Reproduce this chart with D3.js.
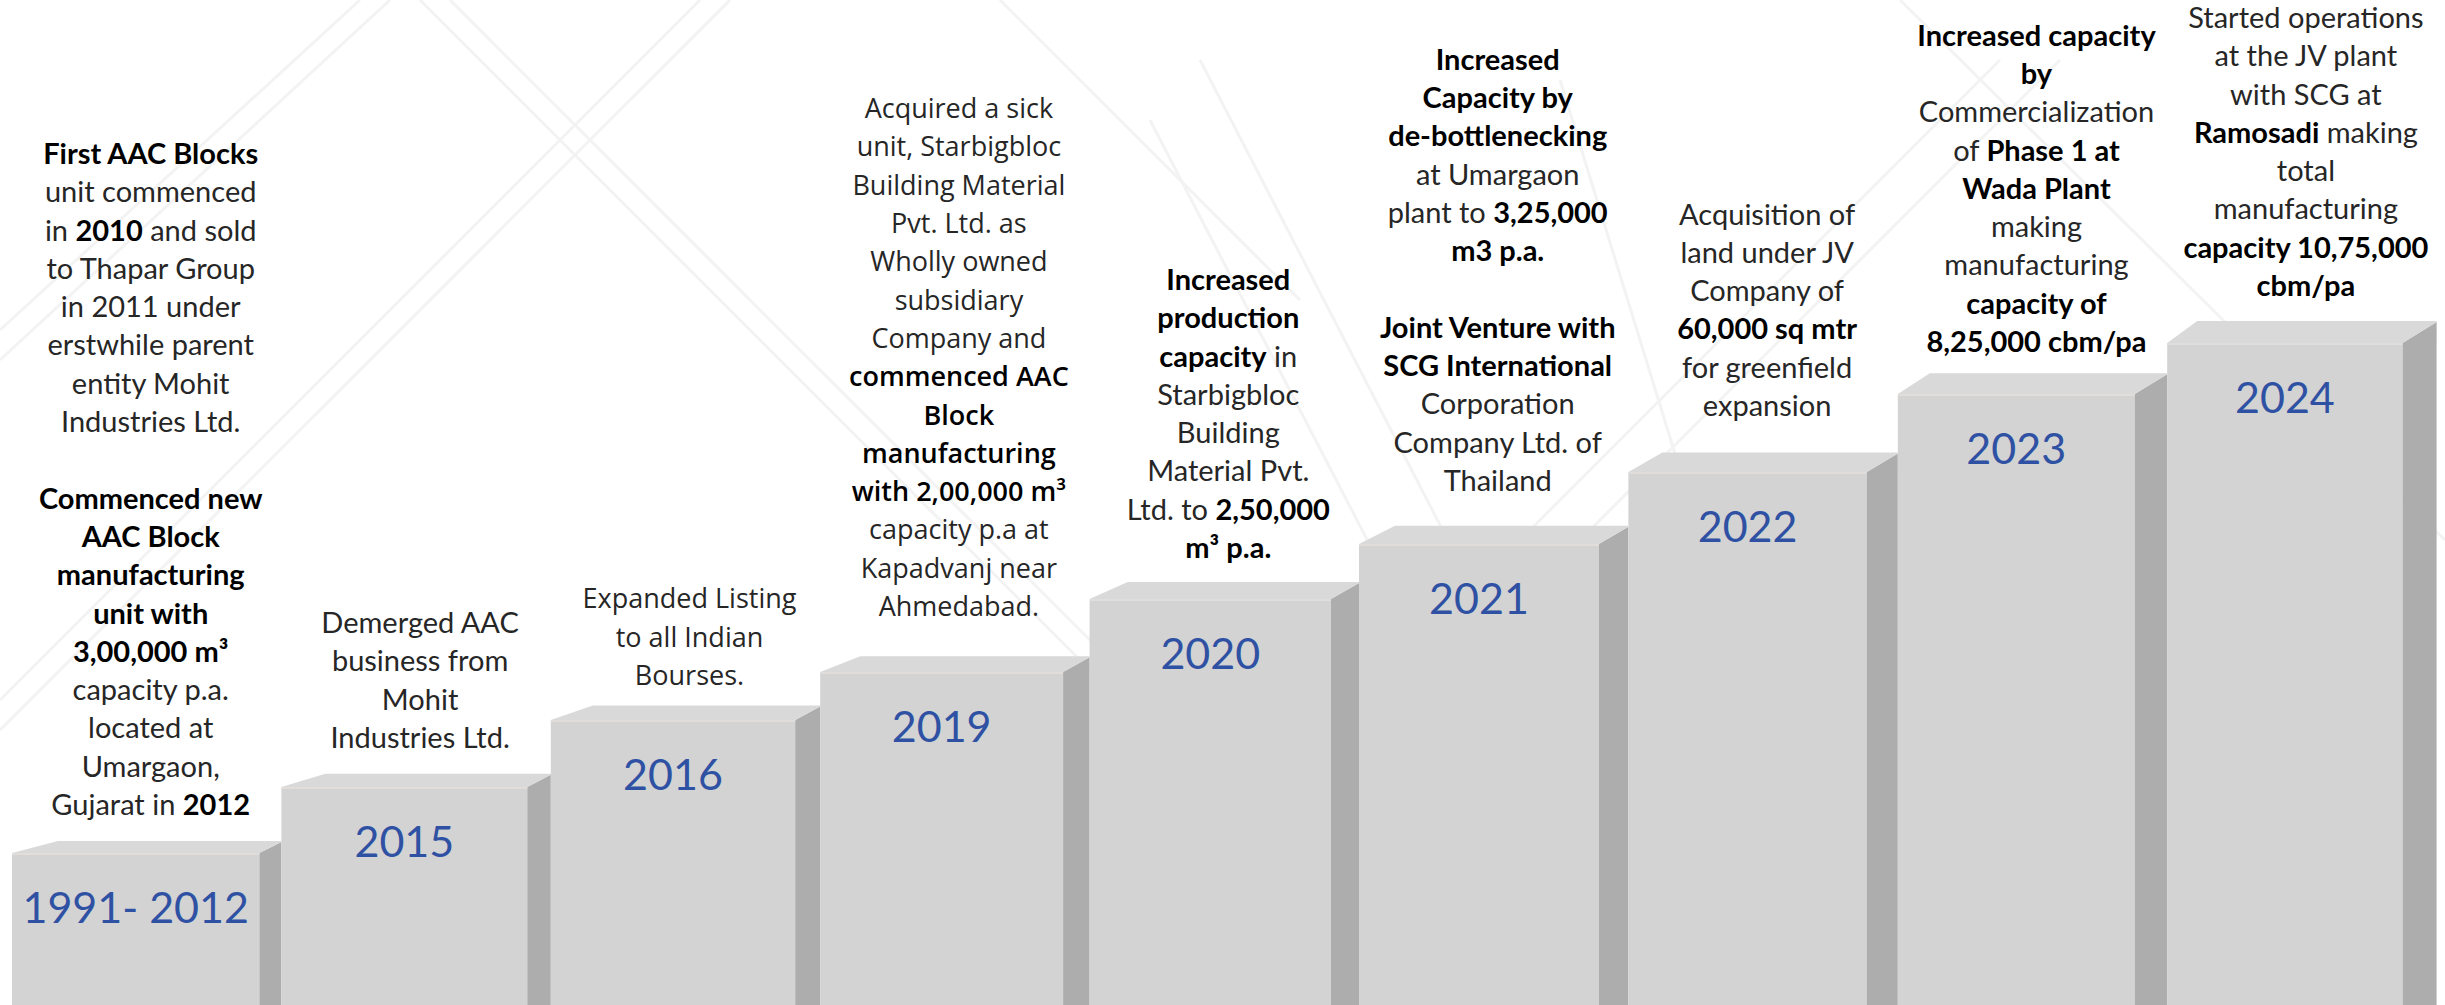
<!DOCTYPE html>
<html>
<head>
<meta charset="utf-8">
<title>Milestones</title>
<script src="https://cdn.jsdelivr.net/npm/d3@7"></script>
<style>
  html, body { margin: 0; padding: 0; background: #ffffff; }
  svg { display: block; }
</style>
</head>
<body>
<script>
// Milestone steps, left to right
var years = ["1991- 2012", "2015", "2016", "2019", "2020", "2021", "2022", "2023", "2024"];
// height of each step (px above the bottom edge)
var steps = [152, 218, 285, 333, 406, 461, 533, 611, 662];

// Notes over each step, **...** marks bold text, "" is an empty line
var notes1991 = ["**First AAC Blocks**", "unit commenced", "in **2010** and sold", "to Thapar Group",
  "in 2011 under", "erstwhile parent", "entity Mohit", "Industries Ltd.", "",
  "**Commenced new**", "**AAC Block**", "**manufacturing**", "**unit with**", "**3,00,000 m³**",
  "capacity p.a.", "located at", "Umargaon,", "Gujarat in **2012**"];
var notes2015 = ["Demerged AAC", "business from", "Mohit", "Industries Ltd."];
var notes2016 = ["Expanded Listing", "to all Indian", "Bourses."];
var notes2019 = ["Acquired a sick", "unit, Starbigbloc", "Building Material", "Pvt. Ltd. as",
  "Wholly owned", "subsidiary", "Company and", "**commenced AAC**", "**Block**",
  "**manufacturing**", "**with 2,00,000 m³**", "capacity p.a at", "Kapadvanj near", "Ahmedabad."];
var notes2020 = ["**Increased**", "**production**", "**capacity** in", "Starbigbloc", "Building",
  "Material Pvt.", "Ltd. to **2,50,000**", "**m³  p.a.**"];
var notes2021 = ["**Increased**", "**Capacity by**", "**de-bottlenecking**", "at Umargaon",
  "plant to **3,25,000**", "**m3 p.a.**", "", "**Joint Venture with**", "**SCG International**",
  "Corporation", "Company Ltd. of", "Thailand"];
var notes2022 = ["Acquisition of", "land under JV", "Company of", "**60,000 sq mtr**",
  "for greenfield", "expansion"];
var notes2023 = ["**Increased capacity**", "**by**", "Commercialization", "of **Phase 1 at**",
  "**Wada Plant**", "making", "manufacturing", "**capacity of**", "**8,25,000 cbm/pa**"];
var notes2024 = ["Started operations", "at the JV plant", "with SCG at", "**Ramosadi** making",
  "total", "manufacturing", "**capacity 10,75,000**", "**cbm/pa**"];

var notes = [notes1991, notes2015, notes2016, notes2019, notes2020, notes2021, notes2022, notes2023, notes2024];

// Layout
var width = 2445, height = 1005;
var lineStep = 38.3;
// gap between last note line and top of the step
var lift = [38, 39, 35, 56, 41, 53, 56, 42, 47];
// which notes use the wider face
var wideFace = [false, false, true, true, false, false, false, false, false];

var svg = d3.select("body").append("svg")
  .attr("width", width)
  .attr("height", height);

svg.append("rect").attr("width", width).attr("height", height).attr("fill", "#ffffff");

// faint architectural lines in the background
var bg = svg.append("g")
  .attr("fill", "none")
  .attr("stroke", "#f3f3f3")
  .attr("stroke-width", 3);
var bgLines = [
  [[0, 330], [360, 0]], [[0, 360], [390, 0]], [[0, 700], [700, 0]], [[0, 730], [730, 0]],
  [[420, 0], [1180, 760]], [[450, 0], [1210, 760]], [[1000, 0], [1300, 300]],
  [[1150, 120], [1450, 700]], [[1200, 60], [1520, 680]], [[1560, 80], [1720, 600]],
  [[1300, 760], [2000, 60]], [[1330, 790], [2060, 60]], [[1900, 0], [2445, 540]]
];
bg.selectAll("line")
  .data(bgLines)
  .enter().append("line")
  .attr("x1", function(d) { return d[0][0]; })
  .attr("y1", function(d) { return d[0][1]; })
  .attr("x2", function(d) { return d[1][0]; })
  .attr("y2", function(d) { return d[1][1]; });

// Scales
var x = d3.scaleBand()
  .domain(years)
  .range([12, 12 + 269.4 * years.length])
  .padding(0);

var y = d3.scaleLinear()
  .domain([0, height])
  .range([height, 0]);

var n = years.length;
function sideW(i) { return 22 + 12 * i / (n - 1); }
function backDx(i) { return 46 - 16 * i / (n - 1); }
function depth(i) { return 12 + 10 * i / (n - 1); }

var data = years.map(function(d, i) { return { year: d, step: steps[i], note: notes[i], i: i }; });

var bars = svg.selectAll("g.step")
  .data(data)
  .enter().append("g")
  .attr("class", "step");

// front face
bars.append("rect")
  .attr("x", function(d) { return x(d.year); })
  .attr("y", function(d) { return y(d.step); })
  .attr("width", function(d) { return x.bandwidth() - sideW(d.i); })
  .attr("height", function(d) { return height - y(d.step) + 2; })
  .attr("fill", "#d3d3d3");

// side face
bars.append("path")
  .attr("d", function(d) {
    var xr = x(d.year) + x.bandwidth() - sideW(d.i);
    var xs = x(d.year) + x.bandwidth();
    var top = y(d.step);
    return "M" + xr + "," + top + "L" + xs + "," + (top - depth(d.i) + 1) +
      "L" + xs + "," + (height + 2) + "L" + xr + "," + (height + 2) + "Z";
  })
  .attr("fill", "#adadad");

// top face
bars.append("path")
  .attr("d", function(d) {
    var xl = x(d.year);
    var xr = x(d.year) + x.bandwidth() - sideW(d.i);
    var xs = x(d.year) + x.bandwidth();
    var top = y(d.step);
    var dp = depth(d.i);
    return "M" + xl + "," + top + "L" + (xl + backDx(d.i)) + "," + (top - dp) +
      "L" + xs + "," + (top - dp) + "L" + xs + "," + (top - dp + 1) + "L" + xr + "," + top + "Z";
  })
  .attr("fill", "#d9d9d9");

// light edge along the top of the front face
bars.append("line")
  .attr("x1", function(d) { return x(d.year); })
  .attr("x2", function(d) { return x(d.year) + x.bandwidth() - sideW(d.i); })
  .attr("y1", function(d) { return y(d.step) + 1; })
  .attr("y2", function(d) { return y(d.step) + 1; })
  .attr("stroke", "#e4e0dc")
  .attr("stroke-width", 1.5);

// year labels
bars.append("text")
  .attr("x", function(d) { return x(d.year) + (x.bandwidth() - sideW(d.i)) / 2; })
  .attr("y", function(d) { return y(d.step) + 70; })
  .attr("text-anchor", "middle")
  .attr("font-family", "Lato, 'Open Sans', sans-serif")
  .attr("font-size", 43)
  .attr("fill", "#2f51a3")
  .text(function(d) { return d.year; });

// notes
bars.each(function(d) {
  var g = d3.select(this);
  var cx = x(d.year) + x.bandwidth() / 2 + 4;
  var lastBase = y(d.step) - lift[d.i];
  var firstBase = lastBase - (d.note.length - 1) * lineStep;
  var wide = wideFace[d.i];
  var t = g.append("text")
    .attr("text-anchor", "middle")
    .attr("font-family", wide ? "'Open Sans', sans-serif" : "Lato, sans-serif")
    .attr("font-size", wide ? 27 : 29);
  d.note.forEach(function(line, k) {
    var ts = t.append("tspan")
      .attr("x", cx)
      .attr("y", firstBase + k * lineStep);
    if (line === "") { ts.text("\u00a0"); return; }
    line.split("**").forEach(function(part, j) {
      if (part === "") return;
      var bold = j % 2 === 1;
      ts.append("tspan")
        .attr("font-weight", bold ? (wide ? 600 : 700) : 400)
        .attr("fill", bold ? "#000000" : "#262626")
        .text(part);
    });
  });
});
</script>
</body>
</html>
